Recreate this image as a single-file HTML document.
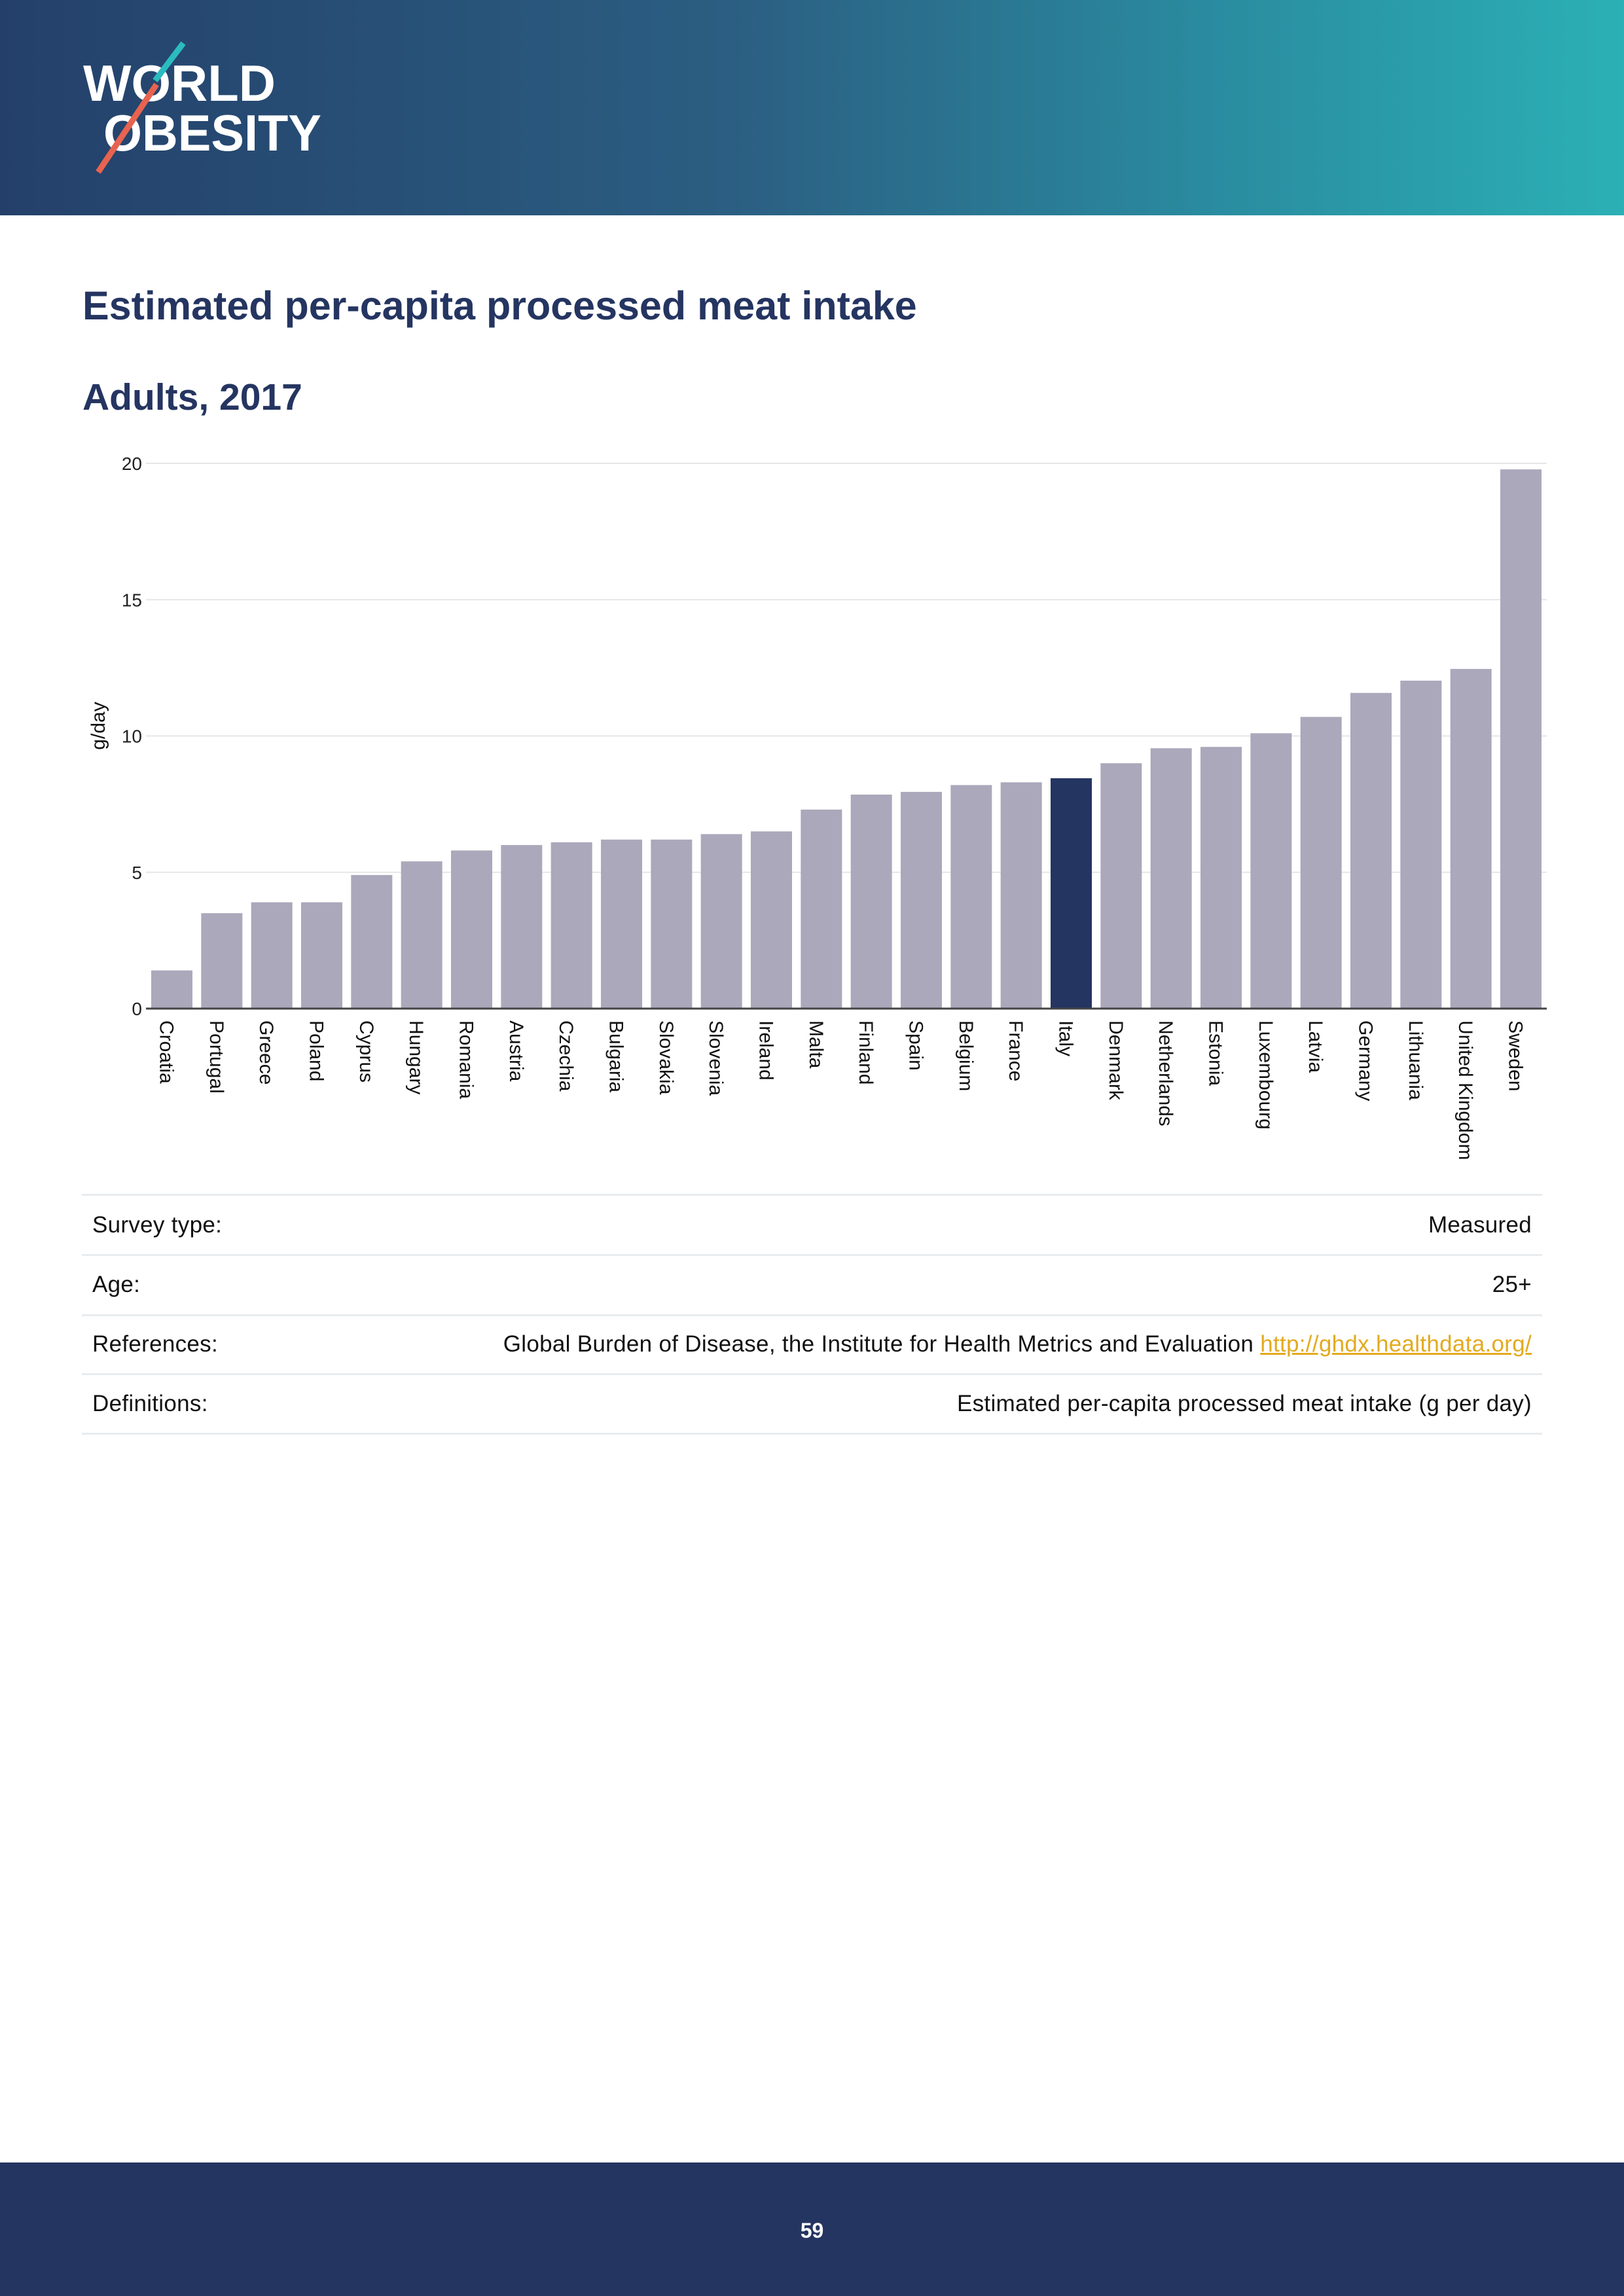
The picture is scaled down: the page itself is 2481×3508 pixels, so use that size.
<!DOCTYPE html>
<html><head><meta charset="utf-8"><style>
body{margin:0;width:2481px;height:3508px;position:relative;background:#fff;font-family:"Liberation Sans",sans-serif;overflow:hidden}
.hdr{position:absolute;left:0;top:0;width:2481px;height:329px;background:linear-gradient(90deg,#24406a 0%,#2b5e82 45%,#2a8ca0 75%,#2bb0b5 100%)}
.t{position:absolute;color:#253561;font-weight:bold}
.row{position:absolute;left:125px;width:2231px;height:92px;font-size:35px;letter-spacing:0.3px;color:#111}
.row span{position:absolute;top:25px}
.line{position:absolute;left:125px;width:2231px;height:3px;background:#e8ecef}
.ftr{position:absolute;left:0;top:3304px;width:2481px;height:204px;background:#253561}
</style></head><body>
<div class="hdr">
<svg width="600" height="329">
<text x="127" y="154" font-family="Liberation Sans" font-weight="bold" font-size="78" fill="#fff" textLength="294" lengthAdjust="spacingAndGlyphs">WORLD</text>
<text x="158" y="230" font-family="Liberation Sans" font-weight="bold" font-size="78" fill="#fff" textLength="333" lengthAdjust="spacingAndGlyphs">OBESITY</text>
<line x1="280" y1="66" x2="237" y2="123" stroke="#2bbcc0" stroke-width="9"/>
<line x1="239" y1="129" x2="150" y2="263" stroke="#e8634f" stroke-width="9"/>
</svg>
</div>
<div class="t" style="left:126px;top:432px;font-size:61px">Estimated per-capita processed meat intake</div>
<div class="t" style="left:126px;top:574px;font-size:57px">Adults, 2017</div>
<svg id="chart" style="position:absolute;left:0;top:650px" width="2481" height="1170"></svg>
<div class="line" style="top:1824px"></div>
<div class="row" style="top:1827px"><span style="left:16px">Survey type:</span><span style="right:16px">Measured</span></div>
<div class="line" style="top:1916px"></div>
<div class="row" style="top:1918px"><span style="left:16px">Age:</span><span style="right:16px">25+</span></div>
<div class="line" style="top:2008px"></div>
<div class="row" style="top:2009px"><span style="left:16px">References:</span><span style="right:16px">Global Burden of Disease, the Institute for Health Metrics and Evaluation <a style="color:#e3aa1f;text-decoration:underline">http://ghdx.healthdata.org/</a></span></div>
<div class="line" style="top:2098px"></div>
<div class="row" style="top:2100px"><span style="left:16px">Definitions:</span><span style="right:16px">Estimated per-capita processed meat intake (g per day)</span></div>
<div class="line" style="top:2189px"></div>
<div class="ftr"><div style="position:absolute;width:100%;top:86px;text-align:center;color:#fff;font-weight:bold;font-size:32px">59</div></div>
<script>
const categories=["Croatia","Portugal","Greece","Poland","Cyprus","Hungary","Romania","Austria","Czechia","Bulgaria","Slovakia","Slovenia","Ireland","Malta","Finland","Spain","Belgium","France","Italy","Denmark","Netherlands","Estonia","Luxembourg","Latvia","Germany","Lithuania","United Kingdom","Sweden"];
const values=[1.4,3.5,3.9,3.9,4.9,5.4,5.8,6.0,6.1,6.2,6.2,6.4,6.5,7.3,7.85,7.95,8.2,8.3,8.45,9.0,9.55,9.6,10.1,10.7,11.58,12.03,12.46,19.78];
const highlight="Italy";
const yTicks=[0,5,10,15,20];
const NS="http://www.w3.org/2000/svg";
const svg=document.getElementById('chart');
const X0=223,X1=2363,Y0=891,YT=58,YMAX=20;
const y=v=>Y0-(v/YMAX)*(Y0-YT);
const pitch=(2292-231)/(categories.length-1);
const x=i=>231+i*pitch;
const bw=63;
function mk(t,a){const e=document.createElementNS(NS,t);for(const k in a)e.setAttribute(k,a[k]);svg.appendChild(e);return e;}
yTicks.forEach(t=>{
 const g=mk('line',{x1:X0,x2:X1,y1:y(t),y2:y(t),stroke:'#e6e6ea','stroke-width':2});
 
 
 const l=mk('text',{x:X0-6,y:y(t)+10,'text-anchor':'end','font-size':28,fill:'#222','font-family':'Liberation Sans'});
 l.textContent=t;
 
 
});
const yt=mk('text',{x:0,y:0,'font-size':30,fill:'#111','font-family':'Liberation Sans','text-anchor':'middle',transform:'translate(160,459) rotate(-90)'});
yt.textContent='g/day';


categories.forEach((c,i)=>{
 const b=mk('rect',{x:x(i),y:y(values[i]),width:bw,height:Y0-y(values[i]),fill:c===highlight?'#253561':'#aba8bb'});
 
 
 const cx=x(i)+bw/2;
 const t=mk('text',{x:0,y:0,'font-size':30,fill:'#111','font-family':'Liberation Sans',transform:`translate(${cx-18},${Y0+18}) rotate(90)`});
 t.textContent=c;
 
 
});
const ax=mk('line',{x1:X0,x2:X1,y1:Y0,y2:Y0,stroke:'#444','stroke-width':3});


</script>
</body></html>
